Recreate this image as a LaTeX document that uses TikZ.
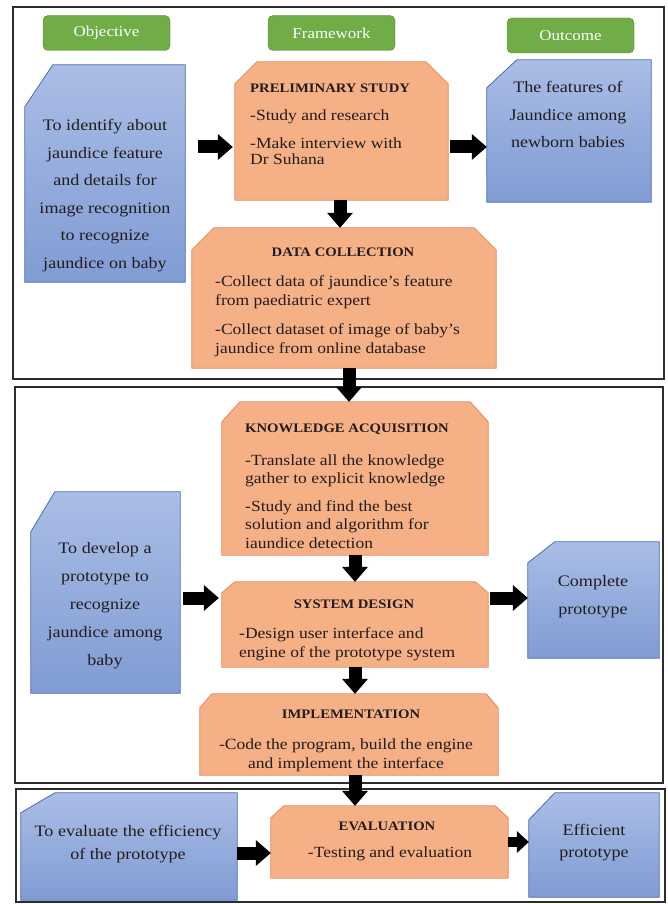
\documentclass[tikz,border=0pt]{standalone}
\usepackage{fontspec}
\setmainfont{Liberation Serif}[FakeStretch=1.13]
\usetikzlibrary{arrows.meta}
\definecolor{pillgreen}{RGB}{112,173,71}
\definecolor{pillline}{RGB}{84,130,53}
\definecolor{goaltop}{RGB}{170,189,229}
\definecolor{goalbot}{RGB}{128,156,212}
\definecolor{goalline}{RGB}{72,108,176}
\definecolor{stagefill}{RGB}{245,176,133}
\definecolor{stageline}{RGB}{226,140,92}
\definecolor{inkc}{RGB}{35,28,28}
\definecolor{framec}{RGB}{45,45,45}
\newcommand{\snipgoal}[3]{\path[goalshape] (#1.south west) -- ([yshift=-#3pt]#1.north west) -- ([xshift=#2pt]#1.north west) -- (#1.north east) -- (#1.south east) -- cycle;}
\newcommand{\snipstage}[3]{\path[stageshape] (#1.south west) -- ([yshift=-#3pt]#1.north west) -- ([xshift=#2pt]#1.north west) -- ([xshift=-#2pt]#1.north east) -- ([yshift=-#3pt]#1.north east) -- (#1.south east) -- cycle;}

\begin{document}
\begin{tikzpicture}[x=1pt,y=-1pt]
		\tikzstyle{pill}=[draw=pillline,fill=pillgreen,rounded corners=5pt,minimum width=127pt,minimum height=35pt,text=white,font=\fontsize{15}{18}\selectfont]
		\tikzstyle{unitbox}=[shape=rectangle,inner sep=0pt]
		\tikzstyle{goalshape}=[draw=goalline,top color=goaltop,bottom color=goalbot,line width=0.8pt]
		\tikzstyle{stageshape}=[draw=stageline,fill=stagefill,line width=0.8pt]
		\tikzstyle{goaltext}=[align=center,text=inkc,inner sep=0pt,font=\fontsize{16}{27.5}\selectfont]
		\tikzstyle{title}=[text=inkc,inner sep=0pt,font=\bfseries\fontsize{13}{16}\selectfont]
		\tikzstyle{body}=[align=left,text=inkc,inner sep=0pt,font=\fontsize{15.5}{18.5}\selectfont]
		\tikzstyle{fat}=[line width=13pt,-{Triangle[length=15pt 0 0,width=26pt 0 0,line width=0pt 0 0]}]
		\tikzstyle{frame}=[draw=framec,line width=1.5pt]

		\fill[white] (0,0) rectangle (668,904);
		\useasboundingbox (0,0) rectangle (668,904);

		\draw[frame] (13,7) rectangle (664,379);
		\draw[frame] (15,387) rectangle (663,783);
		\draw[frame] (16,789) rectangle (665,902);

		\node[pill](objhead) at (106.5,33){Objective};
		\node[pill](frmhead) at (331.5,33){Framework};
		\node[pill](outhead) at (570.5,35.5){Outcome};

		\node[unitbox,minimum width=160pt,minimum height=217pt](obj1) at (105,173.5){};
		\node[unitbox,minimum width=164pt,minimum height=142pt](out1) at (569,131){};
		\node[unitbox,minimum width=149pt,minimum height=201pt](obj2) at (105.5,592.5){};
		\node[unitbox,minimum width=131pt,minimum height=116pt](out2) at (593.5,600){};
		\node[unitbox,minimum width=216pt,minimum height=107pt](obj3) at (129,846.5){};
		\node[unitbox,minimum width=130pt,minimum height=104pt](out3) at (594,845){};
		\snipgoal{obj1}{28}{42}
		\snipgoal{out1}{30}{28}
		\snipgoal{obj2}{24}{40}
		\snipgoal{out2}{27}{21}
		\snipgoal{obj3}{34}{20}
		\snipgoal{out3}{26}{27}

		\node[unitbox,minimum width=213pt,minimum height=138pt](prelim) at (341.5,131){};
		\node[unitbox,minimum width=304pt,minimum height=140pt](data) at (344,298){};
		\node[unitbox,minimum width=266pt,minimum height=153pt](know) at (355,478.5){};
		\node[unitbox,minimum width=266pt,minimum height=85pt](sysd) at (355,624.5){};
		\node[unitbox,minimum width=298pt,minimum height=81pt](impl) at (349,734.5){};
		\node[unitbox,minimum width=237pt,minimum height=72pt](eval) at (389.5,842){};
		\snipstage{prelim}{22}{22}
		\snipstage{data}{22}{22}
		\snipstage{know}{18}{20}
		\snipstage{sysd}{13}{11}
		\snipstage{impl}{12}{14}
		\snipstage{eval}{13}{12}

		\node[goaltext,anchor=base](obj1txt) at (105,268){To identify about\\jaundice feature\\and details for\\image recognition\\to recognize\\jaundice on baby};
		\node[goaltext,anchor=base](out1txt) at (568,148){The features of\\Jaundice among\\newborn babies};
		\node[goaltext,anchor=base,font=\fontsize{16}{28}\selectfont](obj2txt) at (105,665){To develop a\\prototype to\\recognize\\jaundice among\\baby};
		\node[goaltext,anchor=base](out2txt) at (593,614){Complete\\prototype};
		\node[goaltext,anchor=base,font=\fontsize{16}{23}\selectfont](obj3txt) at (128,859){To evaluate the efficiency\\of the prototype};
		\node[goaltext,anchor=base,font=\fontsize{16}{22}\selectfont](out3txt) at (594,857){Efficient\\prototype};

		\node[title,anchor=base west](prelimtitle) at (250,93){PRELIMINARY STUDY};
		\node[body,anchor=base west](prelimtxt) at (250,165){-Study and research\\[9pt]-Make interview with\\[-2pt]Dr Suhana};
		\node[title,anchor=base](datatitle) at (343,256){DATA COLLECTION};
		\node[body,anchor=base west](datatxt) at (215,353){-Collect data of jaundice's feature\\from paediatric expert\\[11pt]-Collect dataset of image of baby's\\jaundice from online database};
		\node[title,anchor=base](knowtitle) at (347,432){KNOWLEDGE ACQUISITION};
		\node[body,anchor=base west](knowtxt) at (245,548){-Translate all the knowledge\\gather to explicit knowledge\\[9pt]-Study and find the best\\solution and algorithm for\\iaundice detection};
		\node[title,anchor=base](sysdtitle) at (354,608){SYSTEM DESIGN};
		\node[body,anchor=base west](sysdtxt) at (239,657){-Design user interface and\\engine of the prototype system};
		\node[title,anchor=base](impltitle) at (351,718){IMPLEMENTATION};
		\node[body,align=center,anchor=base](impltxt) at (346,768){-Code the program, build the engine\\and implement the interface};
		\node[title,anchor=base](evaltitle) at (387,830){EVALUATION};
		\node[body,anchor=base](evaltxt) at (390,857){-Testing and evaluation};

		\coordinate (row1) at (0,147);
		\coordinate (row2) at (0,598);
		\coordinate (row3) at (0,853);
		\coordinate (row4) at (0,842);
		\coordinate (col1) at (340,0);
		\coordinate (col2) at (349,0);
		\coordinate (col3) at (355,0);

		\draw[fat,shorten <=13pt,shorten >=2pt] (obj1.east |- row1) -- (prelim.west |- row1);
		\draw[fat,shorten <=2pt] (prelim.east |- row1) -- (out1.west |- row1);
		\draw[fat] (prelim.south -| col1) -- (data.north -| col1);
		\draw[fat] (data.south -| col2) -- (know.north -| col2);
		\draw[fat] (know.south -| col3) -- (sysd.north -| col3);
		\draw[fat,shorten <=3pt,shorten >=3pt] (obj2.east |- row2) -- (sysd.west |- row2);
		\draw[fat,shorten <=2pt] (sysd.east |- row2) -- (out2.west |- row2);
		\draw[fat] (sysd.south -| col3) -- (impl.north -| col3);
		\draw[fat] (impl.south -| col3) -- (eval.north -| col3);
		\draw[fat] (obj3.east |- row3) -- (eval.west |- row3);
		\draw[fat,line width=10pt,-{Triangle[length=12pt 0 0,width=22pt 0 0,line width=0pt 0 0]}] (eval.east |- row4) -- (out3.west |- row4);
\end{tikzpicture}
\end{document}
